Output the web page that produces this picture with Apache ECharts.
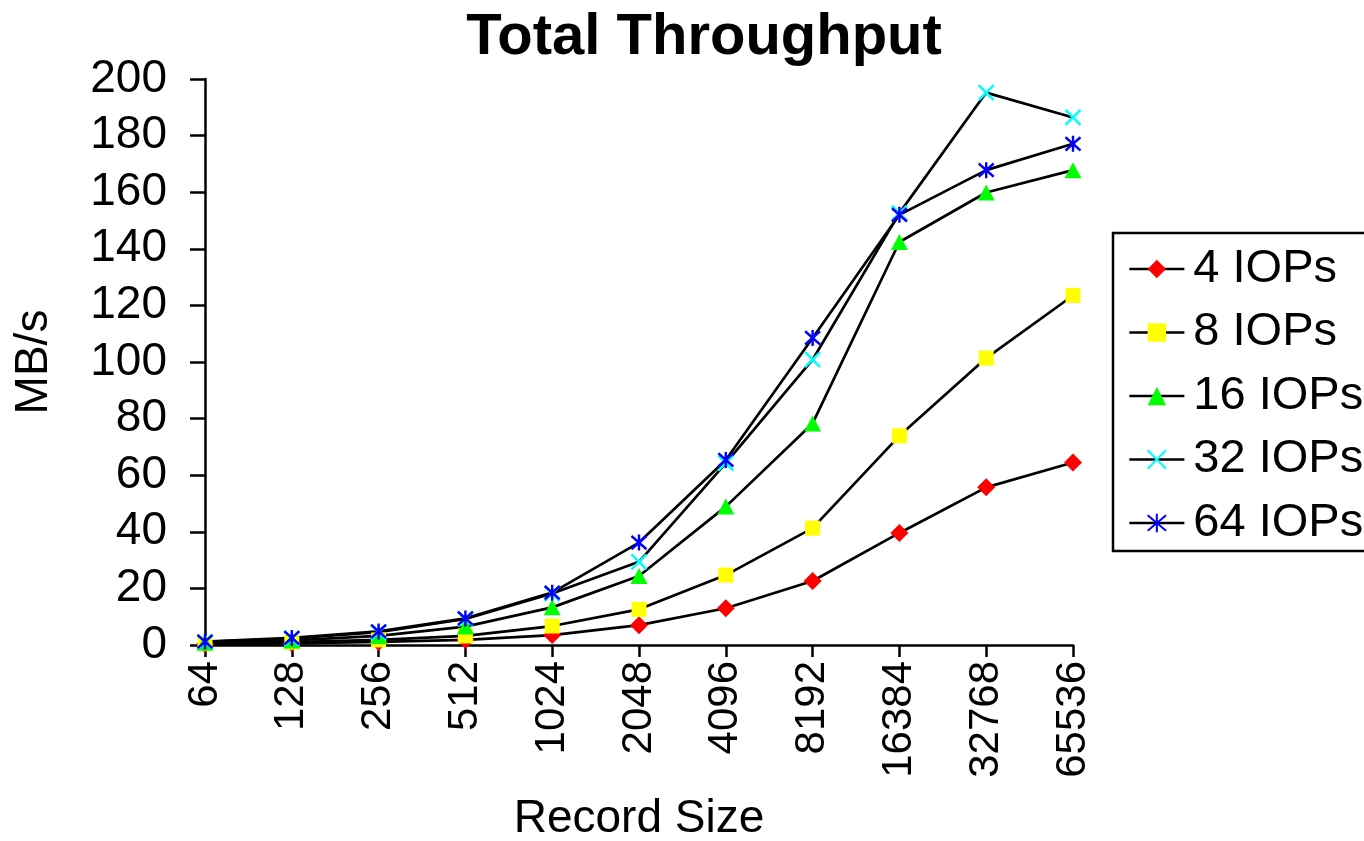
<!DOCTYPE html>
<html>
<head>
<meta charset="utf-8">
<title>Total Throughput</title>
<script src="https://cdn.jsdelivr.net/npm/echarts@6/dist/echarts.min.js"></script>
<style>
  html, body { margin: 0; padding: 0; background: #fff; }
  #chart { width: 1364px; height: 841px; }
</style>
</head>
<body>
<div id="chart"></div>
<script>
// Record sizes (category axis)
const recordSizes = ['64', '128', '256', '512', '1024', '2048', '4096', '8192', '16384', '32768', '65536'];

// Throughput in MB/s for each number of outstanding I/O operations
const iops4  = [0.3, 0.6, 1.1, 1.8, 3.5, 7.0, 13.0, 22.6, 39.6, 55.7, 64.5];
const iops8  = [0.5, 1.0, 1.8, 3.2, 6.7, 12.6, 24.7, 41.3, 73.9, 101.4, 123.5];
const iops16 = [0.8, 1.6, 3.2, 6.5, 13.3, 24.4, 48.9, 78.3, 142.4, 159.9, 167.8];
const iops32 = [1.1, 2.3, 4.5, 9.2, 18.2, 29.4, 64.3, 100.8, 152.6, 195.2, 186.4];
const iops64 = [1.2, 2.5, 4.8, 9.4, 18.5, 36.2, 65.4, 108.5, 152.0, 167.8, 177.1];

const seriesNames = ['4 IOPs', '8 IOPs', '16 IOPs', '32 IOPs', '64 IOPs'];

const FONT = "'Liberation Sans', Arial, sans-serif";

// Marker shapes
const crossPath = 'path://M0,0L10,10M10,0L0,10';
const starPath = 'path://M0,0L10,10M10,0L0,10M5,-1L5,11';

function lineSeries(name, data, symbol, size, itemStyle) {
  return {
    name: name,
    type: 'line',
    data: data,
    symbol: symbol,
    symbolSize: size,
    showAllSymbol: true,
    lineStyle: { color: '#000', width: 2.7 },
    itemStyle: itemStyle,
    emphasis: { disabled: true },
    animation: false
  };
}

const chart = echarts.init(document.getElementById('chart'), null, { renderer: 'canvas' });

chart.setOption({
  backgroundColor: '#fff',
  title: {
    text: 'Total Throughput',
    left: 699,
    top: 4,
    textAlign: 'center',
    textStyle: { fontFamily: FONT, fontSize: 58, fontWeight: 'bold', color: '#000' }
  },
  legend: {
    orient: 'vertical',
    left: 1113,
    top: 233,
    padding: [11, 60, 3, 15],
    itemWidth: 55,
    itemHeight: 23,
    itemGap: 13.5,
    borderColor: '#000',
    borderWidth: 2.5,
    data: seriesNames,
    lineStyle: { width: 2.7 },
    textStyle: { fontFamily: FONT, fontSize: 47, color: '#000', lineHeight: 50, padding: [0, 0, 0, 4] }
  },
  grid: { left: 205, right: 291, top: 79, bottom: 196, containLabel: false, outerBoundsMode: 'none' },
  xAxis: {
    type: 'category',
    data: recordSizes,
    boundaryGap: false,
    name: 'Record Size',
    nameLocation: 'middle',
    nameGap: 151,
    nameTextStyle: { fontFamily: FONT, fontSize: 46, color: '#000' },
    axisLine: { lineStyle: { color: '#000', width: 2.5 } },
    axisTick: { show: true, length: 12, alignWithLabel: true, lineStyle: { color: '#000', width: 2.5 } },
    axisLabel: { rotate: 90, margin: 16, interval: 0, fontFamily: FONT, fontSize: 42, color: '#000' },
    splitLine: { show: false }
  },
  yAxis: {
    type: 'value',
    min: 0,
    max: 200,
    interval: 20,
    name: 'MB/s',
    nameLocation: 'middle',
    nameGap: 148,
    nameTextStyle: { fontFamily: FONT, fontSize: 46, color: '#000' },
    axisLine: { show: true, lineStyle: { color: '#000', width: 2.5 } },
    axisTick: { show: true, length: 15, lineStyle: { color: '#000', width: 2.5 } },
    axisLabel: { margin: 38, fontFamily: FONT, fontSize: 46, color: '#000' },
    splitLine: { show: false }
  },
  series: [
    lineSeries('4 IOPs', iops4, 'diamond', [18, 18], { color: '#ff0000' }),
    lineSeries('8 IOPs', iops8, 'rect', [15, 15], { color: '#ffff00' }),
    lineSeries('16 IOPs', iops16, 'triangle', [17, 16], { color: '#00ff00' }),
    lineSeries('32 IOPs', iops32, crossPath, [15, 15], { color: 'rgba(0,0,0,0)', borderColor: '#00ffff', borderWidth: 2.5 }),
    lineSeries('64 IOPs', iops64, starPath, [15, 16], { color: 'rgba(0,0,0,0)', borderColor: '#0000ff', borderWidth: 2.5 })
  ]
});
</script>
</body>
</html>
